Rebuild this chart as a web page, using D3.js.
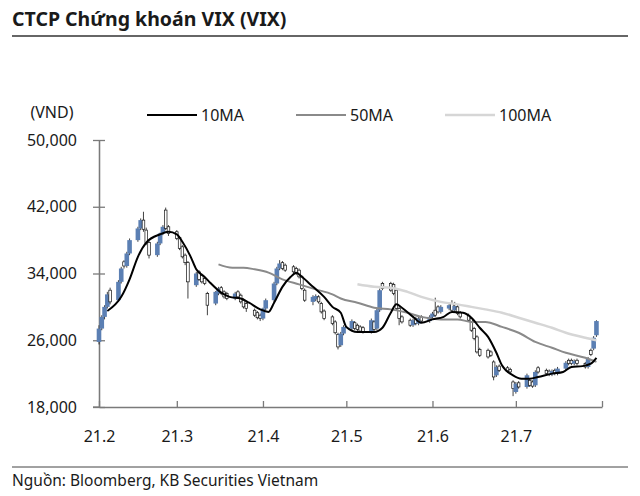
<!DOCTYPE html>
<html>
<head>
<meta charset="utf-8">
<script src="https://cdn.jsdelivr.net/npm/d3@7"></script>
<style>
body { margin: 0; background: #fff; }
text { font-family: "Noto Sans", sans-serif; fill: #1a1a1a; }
</style>
</head>
<body>
<svg id="chart" width="640" height="496"></svg>
<script>
// daily prices, thousand VND, one entry per weekday 01/02/2021 - 30/07/2021
var openP = [
    25.8, 27.4, 28.8, 30.0, 32.0,  30.8, 33.0, 35.4, 34.9, 36.4,  38.0, 39.4, 40.4, 39.2, 37.7,
    36.2, 37.6, 38.8, 41.6, 39.6,  39.0, 38.3, 37.2, 36.2, 35.3,  32.6, 34.2, 33.8, 33.4, 31.6,
    30.4, 31.6, 32.3, 31.8, 31.6,  31.0, 31.8, 31.4, 30.8, 30.4,  29.6, 29.3, 29.0, 28.6, 29.8,
    30.8, 32.8, 34.6, 35.3, 35.0,  34.8, 34.6, 34.4, 33.6, 32.0,  30.6, 30.9, 31.2, 30.4, 29.5,
    28.8, 28.2, 26.7, 25.4, 26.8,  27.4, 28.1, 27.8, 27.6, 27.5,  27.0, 28.2, 27.4, 29.6, 32.8,
    32.8, 32.7, 32.0, 29.8, 28.8,  28.4, 27.8, 28.6, 28.0, 28.8,  28.3, 28.8, 29.6, 30.0, 29.4,
    29.8, 30.4, 29.6, 30.0, 29.3,  29.0, 28.6, 27.4, 26.4, 24.9,  24.8, 24.6, 23.4, 21.8, 22.9,
    22.7, 22.5, 21.0, 19.8, 20.9,  20.4, 21.2, 21.0, 20.6, 22.7,  22.4, 22.3, 21.9, 22.4, 22.0,
    22.6, 23.6, 23.6, 23.2, 23.6,  23.2, 22.8, 24.8, 25.0, 26.6
];
var highP = [
    27.8, 29.0, 30.2, 31.8, 32.3,  33.2, 34.8, 35.6, 36.6, 38.2,  39.6, 40.6, 41.4, 39.5, 37.9,
    37.8, 38.9, 39.8, 41.9, 39.8,  39.2, 38.5, 37.4, 36.4, 35.5,  34.2, 34.4, 34.0, 33.6, 31.8,
    31.9, 32.4, 32.5, 32.0, 31.8,  31.8, 32.0, 31.6, 31.0, 30.6,  29.8, 29.5, 29.2, 29.9, 31.0,
    33.0, 34.8, 35.6, 35.5, 35.2,  35.0, 34.8, 34.6, 33.8, 32.2,  31.4, 31.5, 31.4, 30.6, 29.7,
    29.0, 28.4, 26.9, 27.0, 27.8,  28.5, 28.3, 28.0, 27.8, 27.7,  28.6, 28.4, 29.8, 32.2, 33.0,
    33.0, 32.9, 32.2, 30.0, 29.0,  28.6, 28.6, 28.8, 28.8, 29.0,  29.0, 29.4, 31.1, 30.2, 30.2,
    30.4, 30.8, 30.6, 30.2, 29.5,  29.2, 28.8, 27.6, 26.6, 25.1,  25.0, 24.8, 23.6, 23.0, 23.1,
    22.9, 22.7, 21.2, 21.0, 21.1,  22.0, 21.4, 21.2, 22.4, 22.9,  22.6, 22.5, 22.5, 22.6, 22.8,
    23.5, 23.8, 23.8, 23.7, 23.8,  23.4, 24.0, 25.0, 26.5, 28.4
];
var lowP = [
    25.5, 27.2, 28.5, 29.8, 30.3,  30.6, 32.8, 34.6, 34.7, 36.2,  37.8, 39.2, 39.0, 37.4, 35.8,
    36.0, 37.4, 38.6, 39.2, 38.5,  38.0, 36.8, 35.8, 35.0, 31.0,  32.4, 33.1, 32.8, 32.6, 29.0,
    30.2, 31.4, 31.4, 31.0, 30.8,  30.8, 31.0, 30.4, 29.8, 29.4,  28.8, 28.5, 28.3, 28.4, 29.6,
    30.6, 32.6, 34.4, 34.4, 34.2,  34.0, 33.8, 33.4, 32.0, 30.6,  30.2, 30.7, 30.4, 29.2, 28.4,
    27.8, 26.7, 24.9, 25.2, 26.6,  27.2, 27.2, 27.1, 26.9, 26.8,  26.8, 27.1, 27.2, 29.4, 32.0,
    31.8, 31.4, 29.6, 27.8, 28.0,  27.6, 27.6, 27.8, 27.8, 28.1,  28.1, 28.6, 28.8, 29.2, 29.2,
    29.6, 29.4, 29.4, 29.0, 28.6,  28.2, 27.0, 26.0, 24.4, 24.0,  23.8, 24.0, 21.2, 21.6, 22.2,
    22.1, 22.0, 19.3, 19.6, 20.2,  20.2, 20.4, 20.3, 20.4, 22.0,  21.8, 21.7, 21.7, 21.8, 21.8,
    22.4, 23.0, 23.0, 23.0, 23.0,  22.6, 22.6, 24.1, 24.8, 26.4
];
var closeP = [
    27.4, 28.8, 30.0, 31.5, 30.6,  33.0, 34.6, 34.9, 36.4, 38.0,  39.4, 40.4, 39.3, 37.6, 36.2,
    37.6, 38.8, 39.6, 39.4, 38.8,  38.2, 37.0, 36.0, 35.3, 33.0,  34.0, 33.3, 33.0, 32.8, 30.2,
    31.8, 32.2, 31.6, 31.2, 31.0,  31.6, 31.2, 30.6, 30.0, 29.8,  29.0, 28.7, 28.6, 29.8, 30.8,
    32.8, 34.6, 35.2, 34.6, 34.4,  34.2, 34.0, 33.6, 32.2, 30.8,  31.2, 31.3, 30.6, 29.4, 28.6,
    28.0, 26.9, 25.2, 26.8, 27.6,  28.3, 27.4, 27.3, 27.1, 27.0,  28.4, 27.3, 29.6, 32.0, 32.2,
    32.0, 31.6, 29.8, 28.6, 28.2,  27.8, 28.4, 28.0, 28.6, 28.3,  28.8, 29.2, 29.0, 29.4, 30.0,
    30.2, 29.6, 30.1, 29.2, 28.8,  28.4, 27.2, 26.2, 24.6, 24.2,  24.0, 24.2, 21.6, 22.8, 22.4,
    22.3, 22.2, 20.2, 20.8, 20.4,  21.8, 20.6, 20.5, 22.2, 22.2,  22.0, 21.9, 22.3, 22.0, 22.6,
    23.3, 23.2, 23.2, 23.5, 23.2,  22.8, 23.8, 24.3, 26.3, 28.3
];

// moving averages
var ma10Dates = ["02-04", "02-09", "02-12", "02-15", "02-18", "02-23", "02-26", "03-01", "03-03", "03-06",
    "03-08", "03-11", "03-13", "03-17", "03-20", "03-24", "03-27", "03-31", "04-03", "04-05",
    "04-08", "04-11", "04-13", "04-15", "04-19", "04-23", "04-26", "04-29", "05-01", "05-05",
    "05-11", "05-14", "05-17", "05-19", "05-21", "05-25", "05-28", "06-01", "06-05", "06-08",
    "06-12", "06-15", "06-18", "06-21", "06-24", "06-26", "06-30", "07-03", "07-06", "07-09",
    "07-14", "07-18", "07-21", "07-25", "07-28", "07-30"];
var ma10 = [29.5, 31.2, 33.3, 36.0, 37.7, 38.7, 39.0, 38.7, 37.8, 36.0,
    34.5, 33.6, 32.9, 31.7, 31.2, 31.0, 30.5, 29.7, 29.4, 30.5,
    32.4, 33.6, 34.1, 33.6, 32.4, 31.2, 30.0, 29.3, 27.6, 27.0,
    27.0, 27.5, 29.3, 30.3, 29.9, 28.8, 28.1, 28.5, 28.8, 29.4,
    29.3, 28.7, 27.5, 26.4, 24.5, 23.0, 21.8, 21.4, 21.4, 21.6,
    22.0, 22.2, 22.8, 22.9, 23.2, 23.9];
var ma50Dates = ["03-16", "03-21", "03-25", "03-29", "04-03", "04-08", "04-14", "04-20", "04-26", "04-29",
    "05-05", "05-11", "05-17", "05-23", "05-28", "06-04", "06-10", "06-15", "06-20", "06-26",
    "07-02", "07-08", "07-14", "07-19", "07-26", "07-30"];
var ma50 = [35.1, 34.7, 34.7, 34.5, 34.1, 33.3, 32.7, 32.1, 31.5, 31.0,
    30.5, 29.9, 29.7, 29.3, 28.8, 28.5, 28.5, 28.2, 28.2, 27.6,
    26.9, 25.8, 25.1, 24.5, 23.9, 23.4];
var ma100Dates = ["05-05", "05-11", "05-17", "05-23", "05-28", "06-04", "06-10", "06-15", "06-20", "06-26",
    "07-02", "07-08", "07-14", "07-19", "07-26", "07-30"];
var ma100 = [32.7, 32.4, 32.3, 31.8, 31.2, 30.6, 30.3, 30.0, 29.7, 29.3,
    28.7, 28.1, 27.5, 26.9, 26.3, 26.0];

var yTicks = [18, 26, 34, 42, 50];
var monthTicks = ["02-01", "03-01", "04-01", "05-01", "06-01", "07-01", "08-01"];
var monthLabels = ["21.2", "21.3", "21.4", "21.5", "21.6", "21.7", ""];

var parse = function (s) { return d3.timeParse("%Y-%m-%d")("2021-" + s); };

var days = d3.timeDay.range(parse("02-01"), parse("07-31"))
    .filter(function (d) { return d.getDay() != 0 && d.getDay() != 6; });
var data = days.map(function (d, i) {
    return { date: d, o: openP[i], h: highP[i], l: lowP[i], c: closeP[i] };
});

var svg = d3.select("#chart");
svg.append("rect").attr("width", 640).attr("height", 496).attr("fill", "#fff");

var x = d3.scaleTime().domain([parse("02-01"), parse("08-01")]).range([99, 602]);
var y = d3.scaleLinear().domain([18, 50]).range([407, 140]);

// title + rules
svg.append("text").attr("x", 12).attr("y", 26)
    .style("font-size", "19.5px").style("font-weight", "bold")
    .text("CTCP Chứng khoán VIX (VIX)");
svg.append("line").attr("x1", 12).attr("x2", 628).attr("y1", 36).attr("y2", 36)
    .attr("stroke", "#333").attr("stroke-width", 1.5);
svg.append("line").attr("x1", 12).attr("x2", 628).attr("y1", 467).attr("y2", 467)
    .attr("stroke", "#444").attr("stroke-width", 1);
svg.append("text").attr("x", 12).attr("y", 486)
    .style("font-size", "15.5px")
    .text("Nguồn: Bloomberg, KB Securities Vietnam");

// axes
svg.append("g").attr("transform", "translate(99,0)")
    .call(d3.axisLeft(y).tickValues(yTicks).tickSizeInner(6).tickSizeOuter(0).tickPadding(16)
        .tickFormat(function (d) { return d3.format(",")(d * 1000); }));
svg.append("g").attr("transform", "translate(99,0)")
    .call(d3.axisRight(y).tickValues(yTicks).tickSizeInner(6).tickSizeOuter(0).tickFormat(""));
svg.append("g").attr("transform", "translate(0,407)")
    .call(d3.axisBottom(x).tickValues(monthTicks.map(parse)).tickSizeInner(-6).tickSizeOuter(0).tickPadding(24)
        .tickFormat(function (d, i) { return monthLabels[i]; }));
svg.selectAll(".domain, .tick line").attr("stroke", "#7a7a7a").attr("stroke-width", 1.3);
svg.selectAll(".tick text").style("font-size", "16px").attr("fill", "#1a1a1a");
svg.append("line").attr("x1", 93).attr("x2", 99).attr("y1", 407).attr("y2", 407)
    .attr("stroke", "#7a7a7a").attr("stroke-width", 1.3);
svg.append("text").attr("x", 52).attr("y", 118).attr("text-anchor", "middle")
    .style("font-size", "16px").text("(VND)");

// candles: blue = up day, white = down day
var isUp = function (d) { return d.c >= d.o; };
var candles = svg.append("g").selectAll("g").data(data).enter().append("g");
candles.append("line")
    .attr("x1", function (d) { return x(d.date); })
    .attr("x2", function (d) { return x(d.date); })
    .attr("y1", function (d) { return y(d.h); })
    .attr("y2", function (d) { return y(d.l); })
    .attr("stroke", "#111").attr("stroke-width", 0.8);
candles.append("rect")
    .attr("x", function (d) { return x(d.date) - (isUp(d) ? 2.3 : 1.3); })
    .attr("width", function (d) { return isUp(d) ? 4.6 : 2.6; })
    .attr("y", function (d) { return y(Math.max(d.o, d.c)); })
    .attr("height", function (d) { return Math.max(1, Math.abs(y(d.o) - y(d.c))); })
    .attr("fill", function (d) { return isUp(d) ? "#5b7fb3" : "#fff"; })
    .attr("stroke", function (d) { return isUp(d) ? "none" : "#111"; })
    .attr("stroke-width", 0.7);

// moving averages
var maLines = [
    { name: "100MA", dates: ma100Dates, vals: ma100, color: "#d6d6d6", w: 2.5 },
    { name: "50MA", dates: ma50Dates, vals: ma50, color: "#8a8a8a", w: 2 },
    { name: "10MA", dates: ma10Dates, vals: ma10, color: "#000", w: 2 }
];
var line = d3.line()
    .x(function (d) { return x(d[0]); })
    .y(function (d) { return y(d[1]); })
    .curve(d3.curveMonotoneX);
maLines.forEach(function (m) {
    var pts = m.dates.map(function (s, i) { return [parse(s), m.vals[i]]; });
    svg.append("path").attr("d", line(pts)).attr("fill", "none")
        .attr("stroke", m.color).attr("stroke-width", m.w);
});

// legend
var legendX = [147, 296, 445];
var legendItems = [maLines[2], maLines[1], maLines[0]];
var legend = svg.append("g").selectAll("g").data(legendItems).enter().append("g")
    .attr("transform", function (d, i) { return "translate(" + legendX[i] + ",115)"; });
legend.append("line").attr("x1", 0).attr("x2", 50)
    .attr("stroke", function (d) { return d.color; })
    .attr("stroke-width", function (d) { return d.w; });
legend.append("text").attr("x", 54).attr("y", 6)
    .style("font-size", "16px")
    .text(function (d) { return d.name; });
</script>
</body>
</html>
